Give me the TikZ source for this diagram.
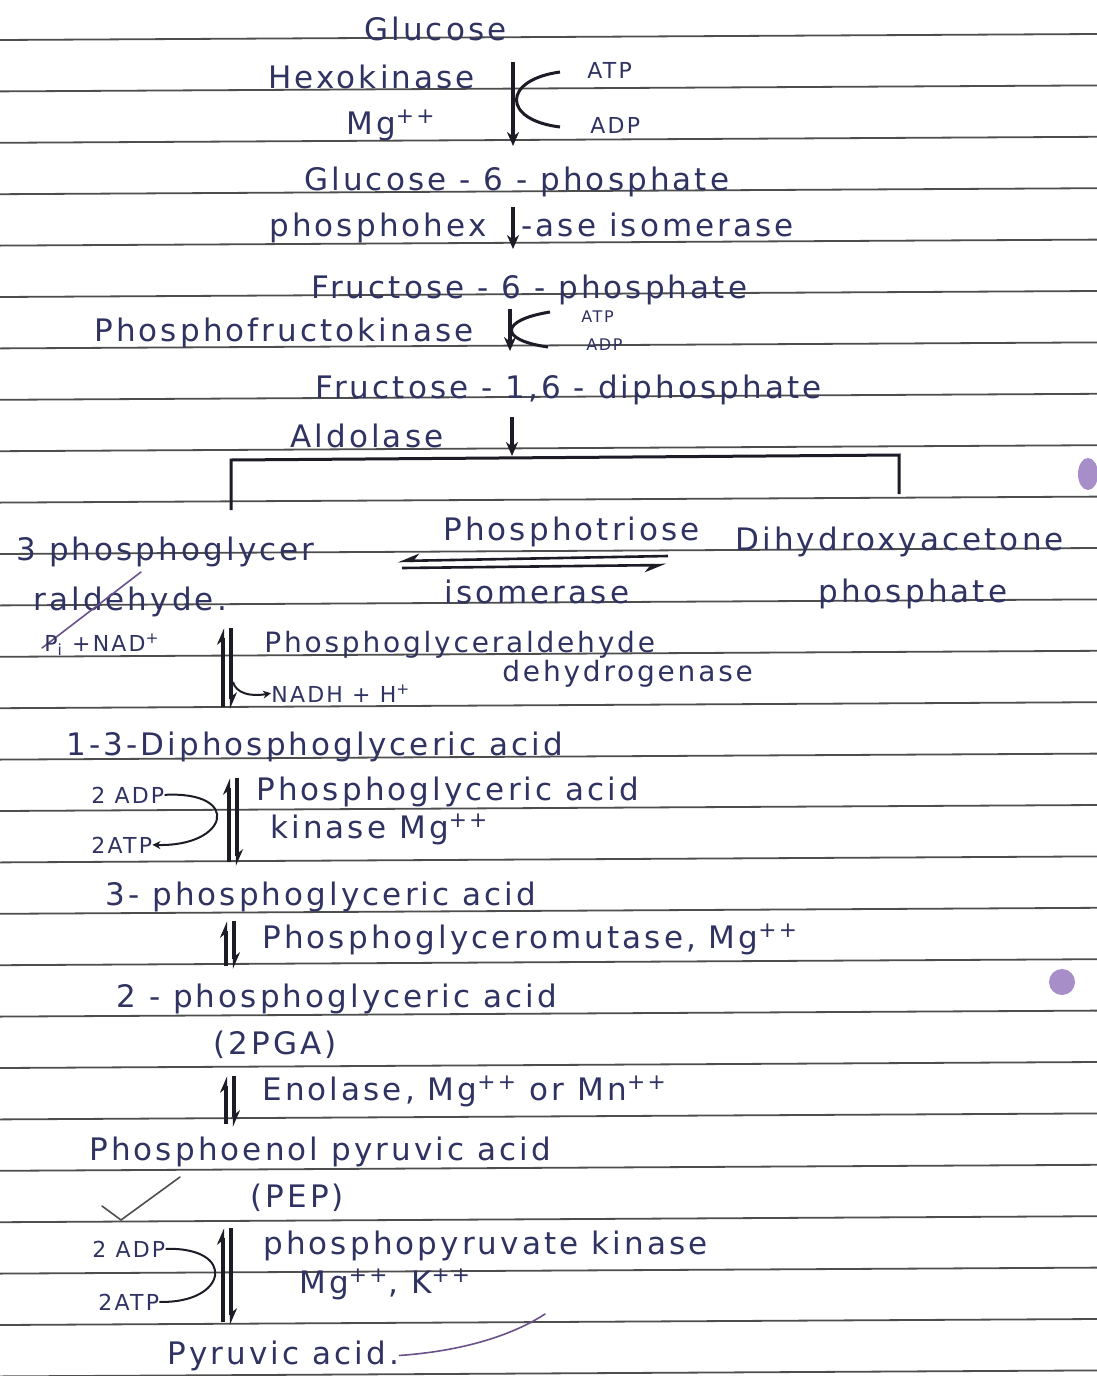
\documentclass[tikz,border=0pt]{standalone}
\usepackage{fontspec}
\usetikzlibrary{arrows.meta,positioning}
\newfontfamily\handfont{DejaVu Sans}[LetterSpace=10]
\definecolor{ink}{RGB}{48,50,98}
\definecolor{pen}{RGB}{28,28,38}
\definecolor{ruling}{RGB}{78,78,78}
\definecolor{blot}{RGB}{168,142,200}
\definecolor{tickc}{RGB}{105,82,138}

\begin{document}
\begin{tikzpicture}[x=0.5pt, y=-0.5pt,
  lbl/.style={anchor=base west, inner sep=0pt, text=ink, font=\handfont\fontsize{15.5}{18}\selectfont},
  lblmid/.style={lbl, font=\handfont\fontsize{14}{17}\selectfont},
  lblsm/.style={lbl, font=\handfont\fontsize{11}{13}\selectfont},
  lbltiny/.style={lbl, font=\handfont\fontsize{8}{10}\selectfont},
  ruleline/.style={draw=ruling, line width=0.9pt},
  fwd/.style={draw=pen, line width=1.6pt, -{Stealth[length=7pt,width=6pt]}},
  revup/.style={draw=pen, line width=1.7pt, -{Stealth[left,length=7pt,width=6pt]}},
  harp/.style={draw=pen, line width=1.3pt, -{Stealth[right,length=9pt,width=7pt]}},
  kink/.style={draw=pen, line width=1.5pt},
  sidecurve/.style={draw=pen, line width=1pt},
  penmark/.style={draw=tickc, line width=0.8pt, line cap=round}]

\fill[white] (0,0) rectangle (1097,1376);
\useasboundingbox (0,0) rectangle (1097,1376);

% notebook ruling
\foreach \k in {0,...,26}
  \draw[ruleline] (0,{40+51.4*\k}) -- (1097,{34+51.4*\k});

% punch marks
\fill[blot] (1088,474) ellipse [x radius=5pt, y radius=8pt];
\fill[blot] (1062,982) circle [radius=6.5pt];

% glucose to fructose-1,6-diphosphate
\node[lbl] (glc) at (364,40) {Glucose};
\node[lbl] (hexo) at (268,88) {Hexokinase};
\node[lbl] (mgA) at (346,134) {Mg\textsuperscript{++}};
\node[lblsm] (atpA) at (587,78) {ATP};
\node[lblsm] (adpA) at (590,133) {ADP};
\coordinate (hkT) at (513,62);
\coordinate (hkB) at (513,146);
\draw[fwd] (hkT) -- (hkB);
\coordinate (hkIn) at (560,72);
\coordinate (hkOut) at (560,127);
\draw[kink] (hkIn) .. controls (502,80) and (502,120) .. (hkOut);

\node[lbl] (gsix) at (304,190) {Glucose - 6 - phosphate};
\node[lbl] (phex) at (269,236) {phosphohex};
\node[lbl] (phexb) at (521,236) {-ase isomerase};
\coordinate (piT) at (513,207);
\coordinate (piB) at (513,249);
\draw[fwd] (piT) -- (piB);

\node[lbl] (fsix) at (311,298) {Fructose - 6 - phosphate};
\node[lbl] (pfk) at (94,341) {Phosphofructokinase};
\node[lbltiny] (atpB) at (581,322) {ATP};
\node[lbltiny] (adpB) at (586,350) {ADP};
\coordinate (pfT) at (510,309);
\coordinate (pfB) at (510,351);
\draw[fwd] (pfT) -- (pfB);
\coordinate (pfIn) at (550,312);
\coordinate (pfOut) at (548,347);
\draw[kink] (pfIn) .. controls (500,320) and (498,340) .. (pfOut);

\node[lbl] (fbp) at (315,398) {Fructose - 1,6 - diphosphate};
\node[lbl] (aldo) at (290,447) {Aldolase};
\coordinate (alT) at (512,417);
\coordinate (alB) at (512,456);
\draw[fwd] (alT) -- (alB);

% split into the two trioses
\coordinate (brL) at (231,510);
\coordinate (brLT) at (231,460);
\coordinate (brRT) at (899,455);
\coordinate (brR) at (899,494);
\draw[kink] (brL) -- (brLT) -- (brRT) -- (brR);

\node[lbl] (gap) at (16,560) {3 phosphoglycer};
\node[lbl] (gapb) at (33,610) {raldehyde.};
\node[lbl] (tpi) at (443,540) {Phosphotriose};
\node[lbl] (tpib) at (444,603) {isomerase};
\node[lbl] (dhap) at (735,550) {Dihydroxyacetone};
\node[lbl] (dhapb) at (818,602) {phosphate};
\coordinate (tpR1) at (668,556);
\coordinate (tpL1) at (398,561);
\coordinate (tpL2) at (402,568);
\coordinate (tpR2) at (666,565);
\draw[harp] (tpR1) -- (tpL1);
\draw[harp] (tpL2) -- (tpR2);
\draw[penmark] (42,648) -- (141,572);

% glyceraldehyde-3-phosphate to pyruvic acid
\node[lblsm] (pinad) at (44,651) {P\textsubscript{i} +NAD\textsuperscript{+}};
\node[lblmid] (gapdh) at (264,652) {Phosphoglyceraldehyde};
\node[lblmid] (gapdhb) at (502,681) {dehydrogenase};
\node[lblsm] (nadh) at (271,702) {NADH + H\textsuperscript{+}};
\coordinate (g1B) at (223,707);
\coordinate (g1T) at (223,628);
\coordinate (g2T) at (231,628);
\coordinate (g2B) at (231,709);
\draw[revup] (g1B) -- (g1T);
\draw[revup] (g2T) -- (g2B);
\coordinate (g2Off) at (233,682);
\draw[sidecurve, -{Stealth[length=4pt,width=4pt]}] (g2Off) .. controls (236,693) and (250,697) .. (nadh.west);

\node[lbl] (bpg) at (66,755) {1-3-Diphosphoglyceric acid};
\node[lblsm] (adpC) at (91,803) {2 ADP};
\node[lblsm] (atpC) at (91,853) {2ATP};
\node[lbl] (pgk) at (256,800) {Phosphoglyceric acid};
\node[lbl] (pgkb) at (270,838) {kinase Mg\textsuperscript{++}};
\coordinate (k1B) at (229,862);
\coordinate (k1T) at (229,778);
\coordinate (k2T) at (237,778);
\coordinate (k2B) at (237,866);
\draw[revup] (k1B) -- (k1T);
\draw[revup] (k2T) -- (k2B);
\draw[sidecurve, -{Stealth[length=4pt,width=4pt]}] (adpC.east) .. controls +(78,-4) and +(76,2) .. (atpC.east);

\node[lbl] (pga3) at (105,905) {3- phosphoglyceric acid};
\node[lbl] (pgm) at (262,948) {Phosphoglyceromutase, Mg\textsuperscript{++}};
\coordinate (m1B) at (226,966);
\coordinate (m1T) at (226,921);
\coordinate (m2T) at (234,921);
\coordinate (m2B) at (234,969);
\draw[revup] (m1B) -- (m1T);
\draw[revup] (m2T) -- (m2B);

\node[lbl] (pga2) at (116,1007) {2 - phosphoglyceric acid};
\node[lbl] (pga2b) at (213,1054) {(2PGA)};
\node[lbl] (eno) at (262,1100) {Enolase, Mg\textsuperscript{++} or Mn\textsuperscript{++}};
\coordinate (e1B) at (226,1124);
\coordinate (e1T) at (226,1076);
\coordinate (e2T) at (234,1076);
\coordinate (e2B) at (234,1127);
\draw[revup] (e1B) -- (e1T);
\draw[revup] (e2T) -- (e2B);

\node[lbl] (pep) at (89,1160) {Phosphoenol pyruvic acid};
\node[lbl] (pepb) at (250,1207) {(PEP)};
\draw[penmark, draw=ruling] (102,1206) -- (121,1220) -- (180,1177);
\node[lblsm] (adpD) at (92,1257) {2 ADP};
\node[lblsm] (atpD) at (98,1310) {2ATP};
\node[lbl] (pk) at (263,1254) {phosphopyruvate kinase};
\node[lbl] (pkb) at (299,1293) {Mg\textsuperscript{++}, K\textsuperscript{++}};
\coordinate (p1B) at (223,1322);
\coordinate (p1T) at (223,1228);
\coordinate (p2T) at (231,1228);
\coordinate (p2B) at (231,1325);
\draw[revup] (p1B) -- (p1T);
\draw[revup] (p2T) -- (p2B);
\draw[sidecurve] (adpD.east) .. controls +(72,-2) and +(68,2) .. (atpD.east);

\node[lbl] (pyr) at (167,1364) {Pyruvic acid.};
\draw[penmark] (pyr.east) .. controls (450,1352) and (505,1340) .. (545,1314);
\end{tikzpicture}
\end{document}
